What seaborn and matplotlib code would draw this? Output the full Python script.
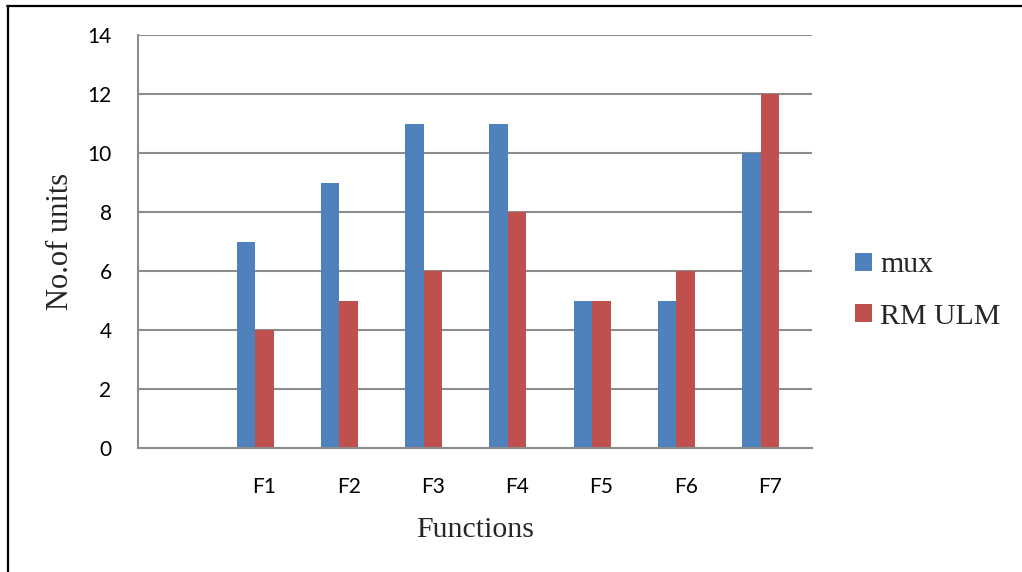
import numpy as np
import pandas as pd
import matplotlib
matplotlib.use("Agg")
import matplotlib.pyplot as plt
from matplotlib.lines import Line2D
import seaborn as sns

# Units required per function for each implementation
functions = ["F1", "F2", "F3", "F4", "F5", "F6", "F7"]
mux_units = [7, 9, 11, 11, 5, 5, 10]
rm_ulm_units = [4, 5, 6, 8, 5, 6, 12]
series_names = ["mux", "RM ULM"]
y_ticks = [0, 2, 4, 6, 8, 10, 12, 14]

df = pd.DataFrame({
    "Function": functions * 2,
    "Units": mux_units + rm_ulm_units,
    "Series": [series_names[0]] * len(functions) + [series_names[1]] * len(functions),
})

sns.set_theme(style="white")
plt.rcParams["font.family"] = ["Lato", "DejaVu Sans"]

fig = plt.figure(figsize=(10.22, 5.72), dpi=100)
ax = fig.add_axes([138 / 1022, 1 - 448 / 572, 674 / 1022, 413 / 572])

palette = {"mux": "#4F81BD", "RM ULM": "#C0504D"}
sns.barplot(data=df, x="Function", y="Units", hue="Series", order=functions,
            hue_order=series_names, palette=palette, width=0.44, gap=0,
            saturation=1, edgecolor="none", linewidth=0, legend=True, ax=ax)

# Category labels sit half a bar to the right of each pair of bars,
# and one empty category slot is left before F1
shift = 0.11
ax.set_xticks(np.arange(len(functions)) + shift, functions)
ax.set_xlim(-1.5 + shift, len(functions) - 0.5 + shift)
ax.set_ylim(0, 14)
ax.set_yticks(y_ticks)
ax.yaxis.grid(True, color="#8C8C8C", linewidth=1.5)
ax.set_axisbelow(True)

for side in ["top", "right"]:
    ax.spines[side].set_visible(False)
for side in ["left", "bottom"]:
    ax.spines[side].set_color("#8C8C8C")
    ax.spines[side].set_linewidth(1.5)

ax.tick_params(axis="y", length=0, pad=19, labelsize=15, colors="black")
ax.tick_params(axis="x", length=0, pad=21, labelsize=15, colors="black")
ax.set_xlabel("")
ax.set_ylabel("")

serif = ["Liberation Serif", "DejaVu Serif"]
fig.text(61 / 1022, 1 - 241 / 572, "No.of units", rotation=90, ha="center",
         va="center", fontsize=22, family=serif)
fig.text(475 / 1022, 1 - 537 / 572, "Functions", ha="center", va="baseline",
         fontsize=21.5, family=serif)

handles, labels = ax.get_legend_handles_labels()
ax.legend(handles, labels, loc="center left",
          bbox_to_anchor=(855 / 1022, 1 - 291 / 572), bbox_transform=fig.transFigure,
          frameon=False, handlelength=0.57, handleheight=0.57, handletextpad=0.27,
          labelspacing=0.85, borderaxespad=0, borderpad=0,
          prop={"family": serif, "size": 21.5})

# Outer frame lines
fig.add_artist(Line2D([7 / 1022, 1], [1 - 5.5 / 572, 1 - 5.5 / 572],
                      transform=fig.transFigure, color="black", linewidth=1.6))
fig.add_artist(Line2D([8 / 1022, 8 / 1022], [0, 1 - 5.5 / 572],
                      transform=fig.transFigure, color="black", linewidth=1.6))

fig.savefig("out.png", dpi=100)
